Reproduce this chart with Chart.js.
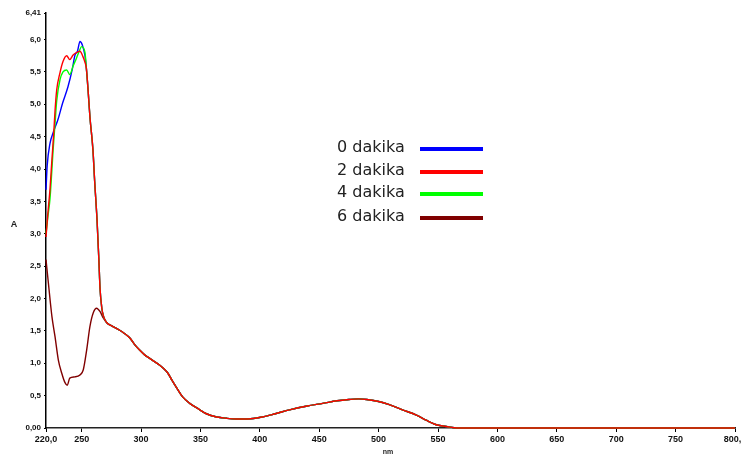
<!DOCTYPE html>
<html>
<head>
<meta charset="utf-8">
<script src="https://cdn.jsdelivr.net/npm/chart.js@4.4.1/dist/chart.umd.min.js"></script>
<style>
html,body{margin:0;padding:0;background:#fff;overflow:hidden;width:741px;height:457px;}
canvas{display:block;}
</style>
</head>
<body>
<canvas id="c" width="760" height="457"></canvas>
<script>
// ---- data (wavelength nm, absorbance A) ----
const seriesLabels = ['0 dakika', '2 dakika', '4 dakika', '6 dakika'];
const seriesColors = ['#0000ff', '#ff0000', '#00ff00', '#800000'];

const blueNm  = [220, 221, 223.4, 226, 230, 234, 238.5, 242, 244.4, 246.5, 248.6, 250.5, 252.8];
const blueA   = [3.68, 4.05, 4.4, 4.56, 4.76, 5.02, 5.27, 5.53, 5.76, 5.82, 5.97, 5.92, 5.75];

const redNm   = [220, 221.5, 223.4, 225, 226.5, 227.6, 229, 231.8, 234.3, 237.4, 240, 242.8, 245.8, 248.6, 251, 252.8];
const redA    = [2.95, 3.3, 3.7, 4.15, 4.55, 4.9, 5.22, 5.49, 5.66, 5.75, 5.69, 5.76, 5.8, 5.82, 5.74, 5.65];

const greenNm = [220, 221.5, 223.4, 225, 226, 227.6, 229, 231.8, 234.3, 237.4, 240, 242.8, 245.8, 248, 250, 252.8];
const greenA  = [3.0, 3.25, 3.55, 4.0, 4.3, 4.7, 5.05, 5.38, 5.5, 5.53, 5.46, 5.59, 5.72, 5.82, 5.89, 5.8];

const brownNm = [220, 222, 225, 227.6, 230.4, 233.2, 236, 237.9, 240, 244.4, 248.6, 251.4, 254.2, 257, 259.8, 262.6, 265.4, 268.2];
const brownA  = [2.6, 2.24, 1.72, 1.41, 1.05, 0.85, 0.7, 0.66, 0.77, 0.79, 0.82, 0.9, 1.2, 1.57, 1.78, 1.85, 1.8, 1.7];

// steep fall shared by 0, 2, 4 dakika
const descentNm = [254, 255.5, 257, 259.5, 261, 263, 264.5, 265.5, 267, 268.5];
const descentA  = [5.55, 5.2, 4.8, 4.3, 3.8, 3.2, 2.6, 2.15, 1.85, 1.72];

// common tail shared by all series
const tailNm = [271, 276, 282, 286, 290.6, 295, 299, 303, 307, 311, 315.8, 319, 322.5, 326, 330, 335, 341, 347, 355, 363.7, 372, 380, 390, 402, 413, 425, 440, 453, 465, 475, 483, 490, 500, 509, 520, 531.8, 540, 548.6, 558, 566, 600, 700, 800];
const tailA  = [1.63, 1.57, 1.51, 1.46, 1.39, 1.28, 1.2, 1.13, 1.08, 1.03, 0.97, 0.92, 0.85, 0.74, 0.62, 0.48, 0.38, 0.31, 0.22, 0.17, 0.15, 0.14, 0.14, 0.17, 0.22, 0.28, 0.34, 0.38, 0.42, 0.44, 0.45, 0.44, 0.41, 0.36, 0.28, 0.2, 0.12, 0.05, 0.02, 0.0, 0, 0, 0];

const xTicks = [220, 250, 300, 350, 400, 450, 500, 550, 600, 650, 700, 750, 800];
const yTicks = [0, 0.5, 1, 1.5, 2, 2.5, 3, 3.5, 4, 4.5, 5, 5.5, 6, 6.41];

function pts(nm, a) { return nm.map((x, i) => ({x: x, y: a[i]})); }
const heads = [
  pts(blueNm, blueA).concat(pts(descentNm, descentA)),
  pts(redNm, redA).concat(pts(descentNm, descentA)),
  pts(greenNm, greenA).concat(pts(descentNm, descentA)),
  pts(brownNm, brownA)
];
const drawOrder = [2, 0, 1, 3]; // lower = drawn on top: red on top, brown at bottom
const datasets = heads.map((h, i) => ({
  label: seriesLabels[i],
  data: h.concat(pts(tailNm, tailA)),
  borderColor: seriesColors[i],
  borderWidth: 1.4,
  pointRadius: 0,
  fill: false,
  clip: 3,
  cubicInterpolationMode: 'monotone',
  order: drawOrder[i]
}));

const fmtY = v => v === 0 ? '0,00' : (Math.abs(v - 6.41) < 1e-6 ? '6,41' : v.toFixed(1).replace('.', ','));
const fmtX = v => (v === 220 || v === 800) ? v + ',0' : String(v);

const overlay = {
  id: 'overlay',
  afterDraw(chart) {
    const ctx = chart.ctx;
    ctx.save();
    ctx.fillStyle = '#222';
    ctx.font = 'bold 9px "Liberation Sans", Arial, sans-serif';
    ctx.textAlign = 'center';
    ctx.textBaseline = 'middle';
    ctx.fillText('A', 14, 225);
    ctx.font = 'bold 7px "Liberation Sans", Arial, sans-serif';
    ctx.fillText('nm', 388, 452);
    // legend (order as listed)
    ctx.font = '16px "DejaVu Sans", sans-serif';
    ctx.textAlign = 'left';
    const rows = [148, 171, 193, 217];
    chart.data.datasets.forEach((ds, i) => {
      ctx.fillStyle = '#222';
      ctx.fillText(ds.label, 337, rows[i]);
      ctx.strokeStyle = ds.borderColor;
      ctx.lineWidth = 4;
      ctx.beginPath();
      ctx.moveTo(420, rows[i] + 1);
      ctx.lineTo(483, rows[i] + 1);
      ctx.stroke();
    });
    ctx.restore();
  }
};

new Chart(document.getElementById('c'), {
  type: 'line',
  data: { datasets: datasets },
  options: {
    responsive: false,
    animation: false,
    layout: { padding: { left: 0, right: 25, top: 13, bottom: 0 } },
    plugins: { legend: { display: false }, tooltip: { enabled: false } },
    scales: {
      x: {
        type: 'linear',
        min: 220, max: 800,
        afterBuildTicks: s => { s.ticks = xTicks.map(v => ({value: v})); },
        afterFit: s => { s.height = 29; },
        grid: { drawOnChartArea: false, drawTicks: true, tickLength: 4, color: '#000' },
        border: { display: true, color: '#222', width: 1.5 },
        ticks: {
          callback: fmtX, color: '#111', padding: 2, maxRotation: 0, autoSkip: false,
          font: { family: '"Liberation Sans", Arial, sans-serif', size: 9, weight: 'bold' }
        }
      },
      y: {
        type: 'linear',
        min: 0, max: 6.41,
        afterBuildTicks: s => { s.ticks = yTicks.map(v => ({value: v})); },
        afterFit: s => { s.width = 46; },
        grid: { drawOnChartArea: false, drawTicks: true, tickLength: 2, color: '#000' },
        border: { display: true, color: '#000', width: 1.5 },
        ticks: {
          callback: fmtY, color: '#111', padding: 3, autoSkip: false,
          font: { family: '"Liberation Sans", Arial, sans-serif', size: 8, weight: 'bold' }
        }
      }
    }
  },
  plugins: [overlay]
});
</script>
</body>
</html>
